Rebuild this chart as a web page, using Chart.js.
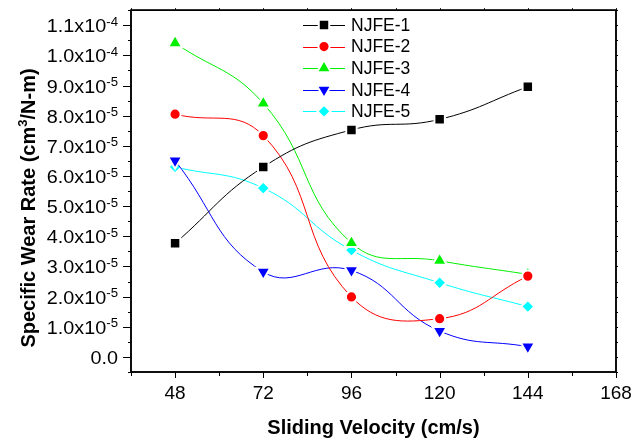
<!DOCTYPE html>
<html><head><meta charset="utf-8">
<script src="https://cdn.jsdelivr.net/npm/chart.js@4.4.1/dist/chart.umd.min.js"></script>
<style>html,body{margin:0;padding:0;background:#fff;overflow:hidden}#wrap{width:633px;height:438px;position:relative}</style>
</head><body><div id="wrap"><canvas id="c"></canvas></div>
<script>
// ---- data ----
const velocities = [48, 72, 96, 120, 144];
const seriesNames = ['NJFE-1', 'NJFE-2', 'NJFE-3', 'NJFE-4', 'NJFE-5'];
const njfe1 = [3.77e-5, 6.30e-5, 7.53e-5, 7.88e-5, 8.96e-5];
const njfe2 = [8.05e-5, 7.34e-5, 1.99e-5, 1.27e-5, 2.68e-5];
const njfe3 = [1.041e-4, 8.41e-5, 3.78e-5, 3.19e-5, 2.74e-5];
const njfe4 = [6.51e-5, 2.82e-5, 2.87e-5, 0.86e-5, 0.34e-5];
const njfe5 = [6.30e-5, 5.60e-5, 3.54e-5, 2.46e-5, 1.67e-5];
const xTickValues = [48, 72, 96, 120, 144, 168];
const xTickLabels = ['48', '72', '96', '120', '144', '168'];
const yTickValues = [0, 1e-5, 2e-5, 3e-5, 4e-5, 5e-5, 6e-5, 7e-5, 8e-5, 9e-5, 1.0e-4, 1.1e-4];
const yTickMantissa = ['0.0', '1.0x10', '2.0x10', '3.0x10', '4.0x10', '5.0x10', '6.0x10', '7.0x10', '8.0x10', '9.0x10', '1.0x10', '1.1x10'];
const yTickExponent = ['', '-5', '-5', '-5', '-5', '-5', '-5', '-5', '-5', '-5', '-4', '-4'];
const xTitle = 'Sliding Velocity (cm/s)';
const yTitleMain = 'Specific Wear Rate (cm';
const yTitleSup = '3';
const yTitleEnd = '/N-m)';

// ---- styles ----
const colors = ['#000000', '#ff0000', '#00f000', '#0000ff', '#00ffff'];
const styles = ['rect', 'circle', 'triangle', 'triangle', 'rectRot'];
const rotations = [0, 0, 0, 180, 0];
const radii = [7.4, 5.6, 8.2, 8.2, 6.6];
const seriesData = [njfe1, njfe2, njfe3, njfe4, njfe5];

const datasets = seriesNames.map((name, i) => ({
  label: name,
  data: velocities.map((v, j) => ({x: v, y: seriesData[i][j]})),
  borderColor: colors[i],
  backgroundColor: colors[i],
  borderWidth: 1,
  tension: 0.45,
  pointStyle: styles[i],
  pointRotation: rotations[i],
  pointRadius: radii[i],
  pointHoverRadius: radii[i],
  pointBorderColor: '#ffffff',
  pointBorderWidth: 2,
  pointBackgroundColor: colors[i]
}));

const FONT = '"Liberation Sans", Arial, sans-serif';

const axesPlugin = {
  id: 'originAxes',
  beforeDatasetsDraw(chart) {
    const {ctx, chartArea: a} = chart;
    ctx.save();
    ctx.strokeStyle = '#000';
    ctx.lineWidth = 1.5;
    ctx.strokeRect(a.left, a.top, a.right - a.left, a.bottom - a.top);
    ctx.restore();
  },
  afterDraw(chart) {
    const {ctx, chartArea: a, scales} = chart;
    const xs = scales.x, ys = scales.y;
    ctx.save();
    ctx.strokeStyle = '#000';
    ctx.fillStyle = '#000';
    ctx.lineWidth = 1.5;
    ctx.strokeRect(a.left, a.top, a.right - a.left, a.bottom - a.top);
    ctx.lineWidth = 1;
    // x ticks (major + minor)
    for (let v = 36; v <= 168; v += 12) {
      const px = Math.round(xs.getPixelForValue(v)) + 0.5;
      const major = (v % 24 === 0);
      ctx.beginPath();
      ctx.moveTo(px, a.bottom); ctx.lineTo(px, a.bottom + (major ? 6 : 4));
      ctx.moveTo(px, a.top); ctx.lineTo(px, a.top - 2);
      ctx.stroke();
    }
    // y ticks
    for (let k = -1; k <= 23; k++) {
      const v = k * 5e-6;
      if (v < ys.min - 1e-12 || v > ys.max + 1e-12) continue;
      const py = Math.round(ys.getPixelForValue(v)) + 0.5;
      const major = (k % 2 === 0);
      ctx.beginPath();
      ctx.moveTo(a.left, py); ctx.lineTo(a.left - (major ? 8 : 3), py);
      ctx.moveTo(a.right, py); ctx.lineTo(a.right + 2, py);
      ctx.stroke();
    }
    // x tick labels
    ctx.font = '19px ' + FONT;
    ctx.textAlign = 'center';
    ctx.textBaseline = 'alphabetic';
    xTickValues.forEach((v, i) => {
      ctx.fillText(xTickLabels[i], xs.getPixelForValue(v), a.bottom + 27);
    });
    // y tick labels with superscript (slightly widened like the original)
    const rightEdge = a.left - 13;
    const sx = 1.1;
    yTickValues.forEach((v, i) => {
      const py = ys.getPixelForValue(v);
      ctx.save();
      ctx.translate(rightEdge, py);
      ctx.scale(sx, 1);
      ctx.font = '12px ' + FONT;
      const sup = yTickExponent[i];
      const sw = sup ? ctx.measureText(sup).width : 0;
      ctx.textAlign = 'right';
      if (sup) ctx.fillText(sup, 0, 0.5);
      ctx.font = '18px ' + FONT;
      ctx.fillText(yTickMantissa[i], -sw, 7);
      ctx.restore();
    });
    // x title
    ctx.font = 'bold 20px ' + FONT;
    ctx.textAlign = 'center';
    ctx.fillText(xTitle, (a.left + a.right) / 2, 434);
    // y title (rotated)
    ctx.save();
    ctx.translate(35, 208);
    ctx.rotate(-Math.PI / 2);
    ctx.font = 'bold 20px ' + FONT;
    const w1 = ctx.measureText(yTitleMain).width;
    const w3 = ctx.measureText(yTitleEnd).width;
    ctx.font = 'bold 13px ' + FONT;
    const w2 = ctx.measureText(yTitleSup).width;
    const total = w1 + w2 + w3;
    let x0 = -total / 2;
    ctx.textAlign = 'left';
    ctx.font = 'bold 20px ' + FONT;
    ctx.fillText(yTitleMain, x0, 0);
    ctx.font = 'bold 13px ' + FONT;
    ctx.fillText(yTitleSup, x0 + w1, -8);
    ctx.font = 'bold 20px ' + FONT;
    ctx.fillText(yTitleEnd, x0 + w1 + w2, 0);
    ctx.restore();
    ctx.restore();
  }
};

const legendPlugin = {
  id: 'originLegend',
  afterDatasetsDraw(chart) {
    const {ctx} = chart;
    ctx.save();
    const x1 = 303, x2 = 345, mx = 324, tx = 351;
    chart.data.datasets.forEach((ds, i) => {
      const y = 25 + i * 21.6;
      ctx.strokeStyle = ds.borderColor;
      ctx.lineWidth = 1;
      ctx.beginPath();
      ctx.moveTo(x1, Math.round(y) + 0.5); ctx.lineTo(x2, Math.round(y) + 0.5);
      ctx.stroke();
      ctx.fillStyle = ds.pointBackgroundColor;
      ctx.strokeStyle = '#ffffff';
      ctx.lineWidth = ds.pointBorderWidth;
      Chart.helpers.drawPoint(ctx, {
        pointStyle: ds.pointStyle, rotation: ds.pointRotation,
        radius: ds.pointRadius, borderWidth: ds.pointBorderWidth
      }, mx, y);
      ctx.fillStyle = '#000';
      ctx.font = '17.5px ' + FONT;
      ctx.textAlign = 'left';
      ctx.textBaseline = 'middle';
      ctx.fillText(ds.label, tx, y + 1);
    });
    ctx.restore();
  }
};

new Chart(document.getElementById('c'), {
  type: 'line',
  data: {datasets},
  options: {
    responsive: true,
    maintainAspectRatio: false,
    animation: false,
    devicePixelRatio: 1,
    layout: {padding: {left: 131, right: 17, top: 9, bottom: 66}},
    plugins: {legend: {display: false}, tooltip: {enabled: false}},
    scales: {
      x: {type: 'linear', min: 36, max: 168, display: false},
      y: {type: 'linear', min: -5e-6, max: 1.15e-4, display: false}
    }
  },
  plugins: [axesPlugin, legendPlugin]
});
</script>
</body></html>
